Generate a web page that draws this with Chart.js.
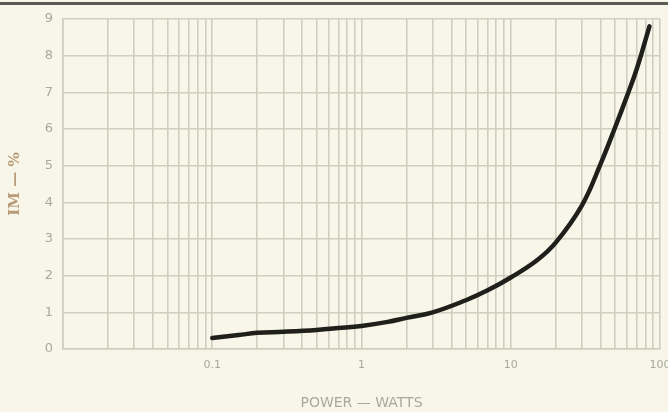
<!DOCTYPE html>
<html>
<head>
<meta charset="utf-8">
<script src="https://cdn.jsdelivr.net/npm/chart.js@4/dist/chart.umd.min.js"></script>
<style>
  html, body { margin: 0; padding: 0; background: #f7f6e9; }
  #wrap { width: 668px; height: 412px; position: relative; }
</style>
</head>
<body>
<div id="wrap"><canvas id="chart"></canvas></div>
<script>
// power (watts) vs intermodulation distortion (%)
const powerWatts = [0.1, 0.15, 0.2, 0.3, 0.5, 0.7, 1, 1.5, 2, 3, 5, 7, 10, 15, 20, 30, 40, 50, 60, 70, 85];
const imPercent  = [0.3, 0.38, 0.44, 0.47, 0.52, 0.57, 0.63, 0.74, 0.85, 1.0, 1.33, 1.6, 1.95, 2.42, 2.9, 3.92, 5.05, 6.04, 6.89, 7.65, 8.8];

const xDecades = [0.01, 0.1, 1, 10];
const xTickLabels = ['0.1', '1', '10', '100'];
const yTicks = [0, 1, 2, 3, 4, 5, 6, 7, 8, 9];

const gridColor = '#cfcfbf';
const labelColor = '#a9a99b';

const topRule = {
  id: 'topRule',
  beforeDraw(chart) {
    const { ctx, width } = chart;
    ctx.save();
    ctx.fillStyle = '#5b5b55';
    ctx.fillRect(0, 2, width, 3);
    ctx.restore();
  }
};

const ctx = document.getElementById('chart').getContext('2d');
new Chart(ctx, {
  type: 'line',
  data: {
    datasets: [{
      data: powerWatts.map((p, i) => ({ x: p, y: imPercent[i] })),
      borderColor: '#1f1f1b',
      borderWidth: 4.5,
      pointRadius: 0,
      tension: 0.4,
      borderCapStyle: 'round',
      fill: false
    }]
  },
  options: {
    responsive: true,
    maintainAspectRatio: false,
    animation: false,
    layout: { padding: { top: 19, right: 8, left: 0, bottom: 0 } },
    plugins: { legend: { display: false }, tooltip: { enabled: false } },
    scales: {
      x: {
        type: 'logarithmic',
        min: 0.01,
        max: 100,
        afterBuildTicks(scale) {
          const ticks = [];
          xDecades.forEach(d => {
            for (let m = 1; m <= 9; m++) ticks.push({ value: +(d * m).toPrecision(3) });
          });
          ticks.push({ value: 100 });
          scale.ticks = ticks;
        },
        afterFit(scale) {
          scale.height = 63;
          scale.paddingRight = 0;
          scale.paddingLeft = 0;
        },
        grid: { color: gridColor, lineWidth: 1.6, drawTicks: false },
        border: { color: gridColor, width: 1.6 },
        ticks: {
          autoSkip: false,
          maxRotation: 0,
          padding: 10,
          color: labelColor,
          font: { family: 'DejaVu Sans', size: 11 },
          callback(v) {
            const s = String(+v.toPrecision(3));
            return xTickLabels.includes(s) ? s : '';
          }
        },
        title: {
          display: true,
          text: 'POWER — WATTS',
          color: labelColor,
          font: { family: 'DejaVu Sans', size: 14 },
          padding: { top: 15, bottom: 0 }
        }
      },
      y: {
        min: 0,
        max: 9,
        afterBuildTicks(scale) { scale.ticks = yTicks.map(v => ({ value: v })); },
        afterFit(scale) { scale.width = 63; },
        grid: { color: gridColor, lineWidth: 1.6, drawTicks: false },
        border: { color: gridColor, width: 1.6 },
        ticks: {
          padding: 10,
          color: labelColor,
          font: { family: 'DejaVu Sans', size: 13 }
        },
        title: {
          display: true,
          text: 'IM — %',
          color: '#b89b78',
          font: { family: 'DejaVu Serif', size: 15, weight: 'bold' },
          padding: { top: 6, bottom: 10 }
        }
      }
    }
  },
  plugins: [topRule]
});
</script>
</body>
</html>
